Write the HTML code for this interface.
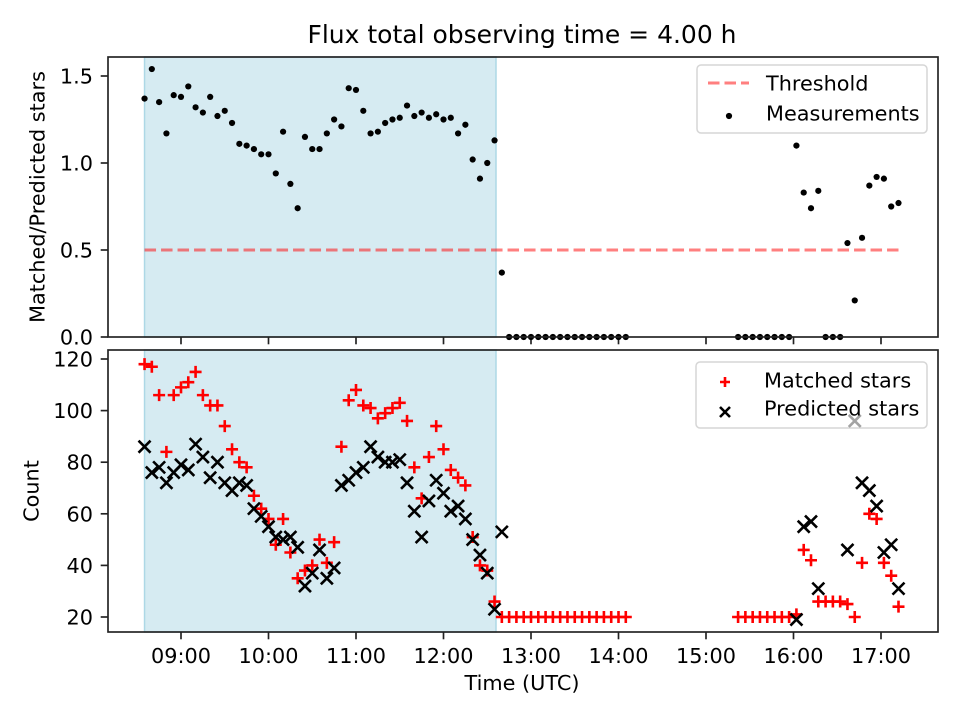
<!DOCTYPE html>
<html><head><meta charset="utf-8"><style>
html,body{margin:0;padding:0;background:#fff;}
svg text{font-family:"DejaVu Sans","Liberation Sans",sans-serif;fill:#000;}
</style></head><body>
<svg id="chart" width="960" height="720" xmlns="http://www.w3.org/2000/svg">
<text x="522" y="43" font-size="25" text-anchor="middle">Flux total observing time = 4.00 h</text>
<g id="top"></g>
<g id="bot"></g>
<text x="522" y="690" font-size="20.8" text-anchor="middle">Time (UTC)</text>
<text transform="translate(44.5,197) rotate(-90)" font-size="20.8" text-anchor="middle">Matched/Predicted stars</text>
<text transform="translate(38.5,491) rotate(-90)" font-size="20.8" text-anchor="middle">Count</text>
</svg>
<script>
// ---- data ----
const shadeStart = "08:35", shadeEnd = "12:36";
const xTickLabels = ["09:00","10:00","11:00","12:00","13:00","14:00","15:00","16:00","17:00"];
const topTicks = [0, 0.5, 1.0, 1.5];
const topTickLabels = ["0.0","0.5","1.0","1.5"];
const botTicks = [20, 40, 60, 80, 100, 120];
const threshold = 0.5;
// early block starts 08:35, 5-min cadence
const ratioEarly = [1.37,1.54,1.35,1.17,1.39,1.38,1.44,1.32,1.29,1.38,1.27,1.30,1.23,1.11,1.10,1.08,1.05,1.05,0.94,1.18,0.88,0.74,1.15,1.08,1.08,1.17,1.25,1.21,1.43,1.42,1.30,1.17,1.18,1.23,1.25,1.26,1.33,1.27,1.29,1.26,1.28,1.25,1.26,1.17,1.22,1.02,0.91,1.00,1.13,0.37,
 0,0,0,0,0,0,0,0,0,0,0,0,0,0,0,0,0];
const matchedEarly = [118,117,106,84,106,109,111,115,106,102,102,94,85,80,78,67,62,58,48,58,45,35,38,40,50,41,49,86,104,108,102,101,97,99,101,103,96,78,66,82,94,85,77,74,71,51,40,38,26,20,
 20,20,20,20,20,20,20,20,20,20,20,20,20,20,20,20,20];
const predictedEarly = [86,76,78,72,76,79,77,87,82,74,80,72,69,72,71,62,59,55,51,50,51,47,32,37,46,35,39,71,73,76,78,86,82,80,80,81,72,61,51,65,73,68,61,63,58,50,44,37,23,53];
// late block starts 15:22, 5-min cadence
const ratioLate = [0,0,0,0,0,0,0,0,1.10,0.83,0.74,0.84,0,0,0,0.54,0.21,0.57,0.87,0.92,0.91,0.75,0.77];
const matchedLate = [20,20,20,20,20,20,20,20,21,46,42,26,26,26,26,25,20,41,60,58,41,36,24];
const predictedLate = [null,null,null,null,null,null,null,null,19,55,57,31,null,null,null,46,96,72,69,63,45,48,31];
const earlyStart = "08:35", lateStart = "15:22", cadenceMin = 5;

// ---- scales ----
const X0=108, X1=938;
function hours(t){const p=t.split(":");return +p[0]+(+p[1])/60;}
function x(h){return 181+(h-9)*87.5;}
function yTop(v){return 337-v*174;}
function yBot(v){return 617-(v-20)*2.58;}
const NS="http://www.w3.org/2000/svg";
function mk(tag,parent,attrs){const e=document.createElementNS(NS,tag);for(const k in attrs)e.setAttribute(k,attrs[k]);parent.appendChild(e);return e;}
function timeAt(start,i){return hours(start)+i*cadenceMin/60;}
const FS=20.8;

function panel(g,top,bottom,ticks,labels,yf){
  const sh=mk('rect',g,{x:x(hours(shadeStart)),y:top,width:x(hours(shadeEnd))-x(hours(shadeStart)),height:bottom-top,fill:'#add8e6','fill-opacity':0.5,stroke:'#add8e6','stroke-width':1.5});
  
  
  xTickLabels.forEach((l)=>{const xx=x(hours(l));
    const t=mk('line',g,{x1:xx,x2:xx,y1:bottom,y2:bottom+7.3,stroke:'#222','stroke-width':1.67});
    
    
  });
  ticks.forEach((v,i)=>{const yy=yf(v);
    const t=mk('line',g,{x1:X0-7.3,x2:X0,y1:yy,y2:yy,stroke:'#222','stroke-width':1.67});
    
    
    const tx=mk('text',g,{x:X0-15,y:yy+7.5,'font-size':FS,'text-anchor':'end'});tx.textContent=labels[i];
    
    
  });
}
const gt=document.getElementById('top'), gb=document.getElementById('bot');
panel(gt,57,337,topTicks,topTickLabels,yTop);
panel(gb,350,632,botTicks,botTicks.map(String),yBot);
xTickLabels.forEach(l=>{const tx=mk('text',gb,{x:x(hours(l)),y:663,'font-size':FS,'text-anchor':'middle'});tx.textContent=l;
  
  });

// threshold
const th=mk('line',gt,{x1:x(hours(earlyStart)),x2:x(timeAt(lateStart,ratioLate.length-1)),y1:yTop(threshold),y2:yTop(threshold),stroke:'#ff0000','stroke-opacity':0.5,'stroke-width':3,'stroke-dasharray':'11.5,5'});



function dots(arr,start){arr.forEach((v,i)=>{if(v===null)return;
  const c=mk('circle',gt,{cx:x(timeAt(start,i)),cy:yTop(v),r:3.1,fill:'#000'});
  
  });}
dots(ratioEarly,earlyStart);dots(ratioLate,lateStart);

const S=6;
function plus(arr,start){arr.forEach((v,i)=>{if(v===null)return;const cx=x(timeAt(start,i)),cy=yBot(v),s=S;
  const p=mk('path',gb,{d:`M${cx-s},${cy}H${cx+s}M${cx},${cy-s}V${cy+s}`,stroke:'#ff0000','stroke-width':2.6,fill:'none'});
  
  });}
function cross(arr,start){arr.forEach((v,i)=>{if(v===null)return;const cx=x(timeAt(start,i)),cy=yBot(v),s=S;
  const p=mk('path',gb,{d:`M${cx-s},${cy-s}L${cx+s},${cy+s}M${cx-s},${cy+s}L${cx+s},${cy-s}`,stroke:'#000','stroke-width':2.6,fill:'none'});
  
  });}
plus(matchedEarly,earlyStart);plus(matchedLate,lateStart);
cross(predictedEarly,earlyStart);cross(predictedLate,lateStart);

// frames
[[gt,57,337],[gb,350,632]].forEach(([g,t,b])=>{const r=mk('rect',g,{x:X0,y:t,width:X1-X0,height:b-t,fill:'none',stroke:'#222','stroke-width':1.67});
  
  });

// legends
function legend(g,x0,y0,w,h,hx,tx,cys,entries){
  const box=mk('rect',g,{x:x0,y:y0,width:w,height:h,rx:4,fill:'#fff','fill-opacity':0.8,stroke:'#d6d6d6','stroke-width':1.5});
  
  
  entries.forEach((e,i)=>{const cy=cys[i];const gg=mk('g',g,{});
    
    
    e.draw(gg,hx,cy);
    const t=mk('text',gg,{x:tx,y:cy+7.5,'font-size':FS});t.textContent=e.label;});
}
legend(gt,697,65,230,68,729,766,[83,113],[
 {label:'Threshold',draw:(g,cx,cy)=>mk('line',g,{x1:cx-21,x2:cx+20,y1:cy,y2:cy,stroke:'#ff0000','stroke-opacity':0.5,'stroke-width':3,'stroke-dasharray':'11.5,5'})},
 {label:'Measurements',draw:(g,cx,cy)=>mk('circle',g,{cx:cx,cy:cy+3,r:3.1,fill:'#000'})}]);
legend(gb,696,362,231,66,725,764,[380,408],[
 {label:'Matched stars',draw:(g,cx,cy)=>mk('path',g,{d:`M${cx-5},${cy+2}H${cx+5}M${cx},${cy-3}V${cy+7}`,stroke:'#ff0000','stroke-width':2.6})},
 {label:'Predicted stars',draw:(g,cx,cy)=>mk('path',g,{d:`M${cx-5},${cy-1}L${cx+5},${cy+9}M${cx-5},${cy+9}L${cx+5},${cy-1}`,stroke:'#000','stroke-width':2.6})}]);
// marker overlapping legend shows through translucent box
(function(){const i=predictedLate.indexOf(96);if(i<0)return;const cx=x(timeAt(lateStart,i)),cy=yBot(predictedLate[i]),s=S;
  const p=mk('path',gb,{d:`M${cx-s},${cy-s}L${cx+s},${cy+s}M${cx-s},${cy+s}L${cx+s},${cy-s}`,stroke:'#000','stroke-opacity':0.2,'stroke-width':2.6});
  
  })();
</script>
</body></html>
